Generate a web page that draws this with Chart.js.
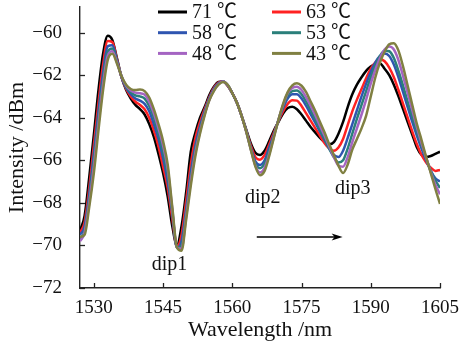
<!DOCTYPE html>
<html><head><meta charset="utf-8">
<script src="https://cdn.jsdelivr.net/npm/chart.js@4.4.1/dist/chart.umd.min.js"></script>
<style>html,body{margin:0;padding:0;background:#fff;}canvas{display:block;}</style>
</head><body>
<canvas id="c" width="463" height="342"></canvas>
<script>
const wavelength = [1527,1528,1529,1530,1531,1532,1533,1534,1535,1536,1537,1538,1539,1540,
1541,1542,1543,1544,1545,1546,1547,1548,1549,1550,1551,1552,1553,1554,1555,1556,1557,1558,1559,1560,
1561,1562,1563,1564,1565,1566,1567,1568,1569,1570,1571,1572,1573,1574,1575,1576,1577,1578,1579,1580,
1581,1582,1583,1584,1585,1586,1587,1588,1589,1590,1591,1592,1593,1594,1595,1596,1597,1598,1599,1600,
1601,1602,1603,1604,1605];
const xTicks = [1530,1545,1560,1575,1590,1605];
const yTicks = [-72,-70,-68,-66,-64,-62,-60];
const seriesNames = ['71 ℃','63 ℃','58 ℃','53 ℃','48 ℃','43 ℃'];
const seriesColors = ['#000000','#ff2222','#2f55b0','#2a7f7a','#a464c2','#808042'];

const t71 = [-69.3,-68.6,-66.8,-64.8,
-62.7,-61.0,-60.15,-60.35,-61.2,-62.1,-62.7,-63.1,-63.4,-63.6,
-63.85,-64.3,-64.9,-65.7,-66.6,-67.7,-69.1,-70.0,-69.1,-67.5,
-65.6,-64.7,-64.0,-63.5,-62.95,-62.55,-62.32,-62.3,-62.5,-62.85,
-63.3,-63.9,-64.55,-65.2,-65.65,-65.75,-65.55,-65.1,-64.6,-64.2,
-63.8,-63.55,-63.48,-63.6,-63.85,-64.15,-64.45,-64.7,-64.95,-65.15,
-65.25,-65.15,-64.75,-64.2,-63.5,-62.9,-62.45,-62.1,-61.8,-61.6,
-61.47,-61.45,-61.7,-62.0,-62.45,-63.0,-63.6,-64.2,-64.8,-65.4,
-65.75,-65.85,-65.8,-65.7,-65.6];
const t63 = [-69.4,-68.9,-67.3,-65.3,
-63.3,-61.5,-60.4,-60.45,-61.25,-62.1,-62.65,-63.0,-63.25,-63.4,
-63.6,-64.0,-64.6,-65.35,-66.3,-67.3,-68.75,-70.05,-69.5,-67.9,
-66.2,-64.95,-64.2,-63.6,-63.05,-62.6,-62.35,-62.3,-62.5,-62.85,
-63.3,-63.9,-64.6,-65.3,-65.85,-65.97,-65.75,-65.25,-64.7,-64.15,
-63.7,-63.35,-63.18,-63.2,-63.45,-63.8,-64.15,-64.5,-64.85,-65.2,
-65.45,-65.55,-65.4,-65.0,-64.35,-63.7,-63.15,-62.65,-62.15,-61.7,
-61.4,-61.25,-61.35,-61.65,-62.1,-62.7,-63.35,-64.0,-64.65,-65.25,
-65.75,-66.1,-66.35,-66.5,-66.45];
const t58 = [-69.5,-69.1,-67.6,-65.7,
-63.7,-61.9,-60.65,-60.6,-61.3,-62.1,-62.6,-62.9,-63.1,-63.2,
-63.35,-63.7,-64.3,-65.0,-65.9,-67.0,-68.5,-70.1,-69.8,-68.3,
-66.6,-65.3,-64.4,-63.7,-63.1,-62.65,-62.38,-62.3,-62.48,-62.85,
-63.3,-63.9,-64.6,-65.4,-66.05,-66.22,-66.0,-65.4,-64.8,-64.12,
-63.55,-63.1,-62.9,-62.9,-63.1,-63.45,-63.85,-64.25,-64.65,-65.05,
-65.45,-65.75,-65.85,-65.55,-64.95,-64.3,-63.65,-63.0,-62.4,-61.85,
-61.4,-61.1,-60.98,-61.1,-61.5,-62.1,-62.8,-63.5,-64.2,-64.85,
-65.45,-66.0,-66.5,-66.85,-67.0];
const t53 = [-69.7,-69.3,-67.8,-66.0,
-64.0,-62.2,-60.9,-60.75,-61.35,-62.05,-62.55,-62.8,-62.95,-63.0,
-63.1,-63.45,-64.0,-64.75,-65.6,-66.7,-68.4,-70.1,-70.0,-68.5,
-66.85,-65.5,-64.55,-63.8,-63.15,-62.7,-62.42,-62.3,-62.47,-62.85,
-63.3,-63.9,-64.62,-65.45,-66.15,-66.37,-66.15,-65.55,-64.85,-64.1,
-63.45,-62.95,-62.75,-62.72,-62.9,-63.25,-63.65,-64.1,-64.55,-65.0,
-65.45,-65.85,-66.1,-66.0,-65.45,-64.75,-64.05,-63.4,-62.75,-62.1,
-61.55,-61.1,-60.85,-60.88,-61.2,-61.8,-62.5,-63.25,-63.95,-64.65,
-65.3,-65.9,-66.5,-66.95,-67.3];
const t48 = [-69.8,-69.4,-68.0,-66.3,
-64.3,-62.45,-61.1,-60.88,-61.4,-62.05,-62.5,-62.72,-62.82,-62.85,
-62.92,-63.25,-63.8,-64.5,-65.3,-66.4,-68.3,-70.1,-70.15,-68.65,
-67.0,-65.65,-64.65,-63.85,-63.18,-62.72,-62.43,-62.3,-62.46,-62.85,
-63.3,-63.9,-64.64,-65.48,-66.25,-66.57,-66.35,-65.7,-64.9,-64.1,
-63.4,-62.85,-62.6,-62.55,-62.7,-63.05,-63.45,-63.9,-64.38,-64.85,
-65.35,-65.85,-66.25,-66.3,-65.85,-65.15,-64.5,-63.85,-63.15,-62.4,
-61.75,-61.2,-60.8,-60.66,-60.8,-61.3,-62.05,-62.85,-63.65,-64.45,
-65.2,-65.88,-66.55,-67.15,-67.6];
const t43 = [-69.6,-69.5,-68.2,-66.6,
-64.6,-62.7,-61.3,-61.0,-61.45,-62.05,-62.45,-62.65,-62.7,-62.68,
-62.75,-63.05,-63.6,-64.3,-65.1,-66.2,-68.2,-70.1,-70.25,-68.8,
-67.2,-65.8,-64.75,-63.9,-63.2,-62.75,-62.45,-62.32,-62.45,-62.85,
-63.3,-63.9,-64.65,-65.5,-66.3,-66.7,-66.5,-65.8,-64.95,-64.1,
-63.35,-62.8,-62.48,-62.38,-62.5,-62.8,-63.25,-63.7,-64.2,-64.7,
-65.25,-65.75,-66.25,-66.6,-66.2,-65.5,-65.0,-64.5,-63.9,-63.0,
-62.1,-61.4,-60.9,-60.55,-60.5,-60.85,-61.6,-62.5,-63.4,-64.3,
-65.05,-65.85,-66.6,-67.35,-68.05];
const seriesValues = [t71,t63,t58,t53,t48,t43];

const dipLabels = ['dip1','dip2','dip3'];
const dipX = [1546.4,1566.6,1586.1];
const dipY = [-70.9,-67.75,-67.35];
const arrowX = [1565.3,1583.9];
const arrowY = -69.6;

const SERIF = "'Liberation Serif','Noto Sans CJK SC',serif";
const INK = '#111';

const decor = {
  id:'decor',
  afterDraw(chart){
    const ctx = chart.ctx, xs = chart.scales.x, ys = chart.scales.y, a = chart.chartArea;
    ctx.save();
    ctx.strokeStyle = '#222'; ctx.lineWidth = 1.3;
    xTicks.forEach(v=>{const px=Math.round(xs.getPixelForValue(v))+0.5;ctx.beginPath();ctx.moveTo(px,a.bottom);ctx.lineTo(px,a.bottom-5);ctx.stroke();});
    yTicks.forEach(v=>{const py=Math.round(ys.getPixelForValue(v))+0.5;ctx.beginPath();ctx.moveTo(a.left,py);ctx.lineTo(a.left+5,py);ctx.stroke();});
    const order=[0,2,4,1,3,5];
    ctx.font = "20px "+SERIF; ctx.textBaseline='middle'; ctx.textAlign='left'; ctx.fillStyle=INK;
    order.forEach((si,k)=>{
      const col=Math.floor(k/3), row=k%3;
      const lx = col===0?158:272, ty = 12+row*20.7;
      ctx.strokeStyle=seriesColors[si]; ctx.lineWidth=3;
      ctx.beginPath(); ctx.moveTo(lx,ty); ctx.lineTo(lx+29,ty); ctx.stroke();
      ctx.fillText(seriesNames[si], lx+34, ty+1);
    });
    ctx.textAlign='center';
    dipLabels.forEach((t,i)=>ctx.fillText(t, xs.getPixelForValue(dipX[i]), ys.getPixelForValue(dipY[i])));
    const x0=xs.getPixelForValue(arrowX[0]), x1=xs.getPixelForValue(arrowX[1]), y=ys.getPixelForValue(arrowY);
    ctx.strokeStyle='#000'; ctx.fillStyle='#000'; ctx.lineWidth=1.5;
    ctx.beginPath(); ctx.moveTo(x0,y); ctx.lineTo(x1-6,y); ctx.stroke();
    ctx.beginPath(); ctx.moveTo(x1,y); ctx.lineTo(x1-11,y-3.5); ctx.lineTo(x1-8,y); ctx.lineTo(x1-11,y+3.5); ctx.closePath(); ctx.fill();
    ctx.restore();
  }
};

new Chart(document.getElementById('c').getContext('2d'), {
  type:'line',
  data:{datasets: seriesValues.map((s,i)=>({
    label: seriesNames[i],
    data: wavelength.map((w,j)=>({x:w,y:s[j]})),
    borderColor: seriesColors[i], borderWidth: 2.5, pointRadius: 0,
    cubicInterpolationMode:'monotone', fill:false, order: 5-i
  }))},
  options:{
    responsive:false, animation:false, devicePixelRatio:1,
    layout:{padding:{top:7,right:23,left:0,bottom:0}},
    plugins:{legend:{display:false}, tooltip:{enabled:false}},
    scales:{
      x:{type:'linear', min:1527, max:1605,
        afterBuildTicks:s=>{s.ticks = xTicks.map(v=>({value:v}));},
        afterFit:s=>{s.height=54; s.paddingLeft=0; s.paddingRight=0;},
        grid:{display:false}, border:{display:true,color:'#222',width:1.4},
        ticks:{color:INK, font:{family:SERIF,size:19}, padding:1, maxRotation:0, autoSkip:false, callback:v=>String(v)},
        title:{display:true, text:'Wavelength /nm', color:INK, font:{family:SERIF,size:22,lineHeight:1.1}, padding:{top:0,bottom:0}}
      },
      y:{type:'linear', min:-72, max:-58.8,
        afterBuildTicks:s=>{s.ticks = yTicks.map(v=>({value:v}));},
        afterFit:s=>{s.width=80; s.paddingTop=0; s.paddingBottom=0;},
        grid:{display:false}, border:{display:true,color:'#222',width:1.4},
        ticks:{color:INK, font:{family:SERIF,size:19,lineHeight:0.6}, padding:10, callback:v=>String(v).replace('-','\u2212')},
        title:{display:true, text:'Intensity /dBm', color:INK, font:{family:SERIF,size:22,lineHeight:1.1}, padding:{top:5,bottom:0}}
      }
    }
  },
  plugins:[decor]
});
</script>
</body></html>
